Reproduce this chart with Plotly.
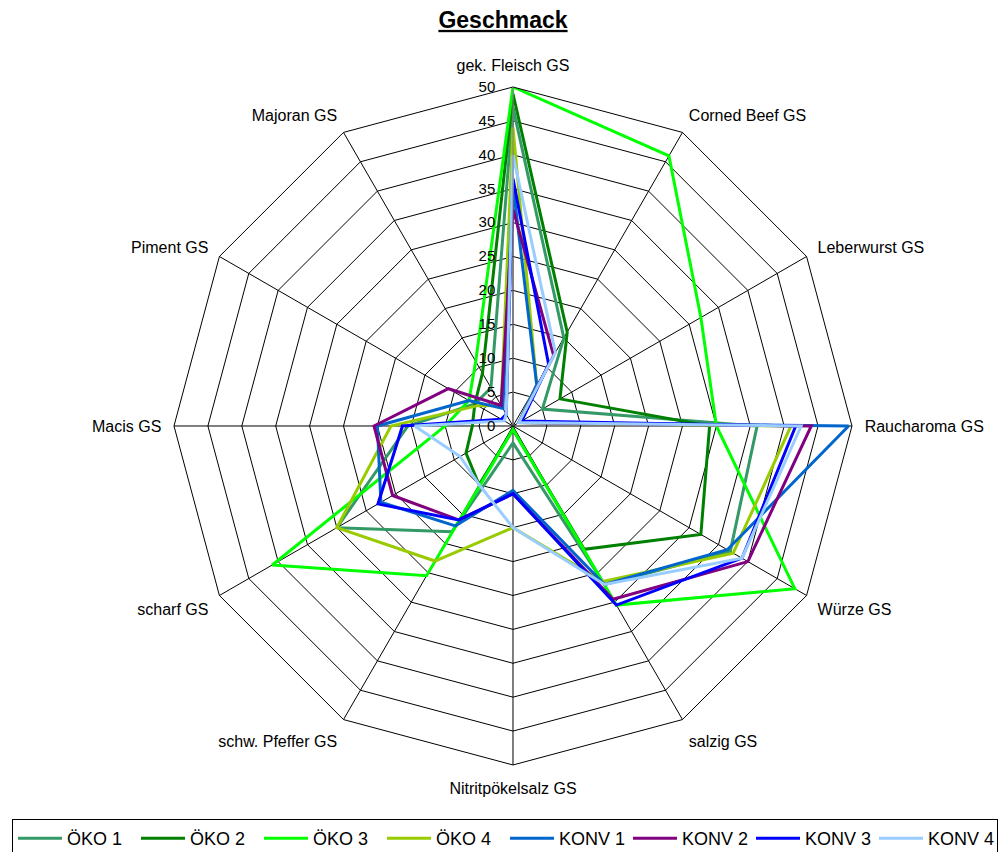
import plotly.graph_objects as go

# Categories (clockwise from top)
categories = [
    "gek. Fleisch GS", "Corned Beef GS", "Leberwurst GS", "Raucharoma GS",
    "Würze GS", "salzig GS", "Nitritpökelsalz GS", "schw. Pfeffer GS",
    "scharf GS", "Macis GS", "Piment GS", "Majoran GS",
]

oeko1 = [47, 15, 5, 36, 37, 27, 2.5, 18, 30, 15.5, 6.5, 6.5]
oeko2 = [49, 16, 8, 29, 32, 21, 0.5, 10, 8, 6, 6.5, 9]
oeko3 = [50, 46, 32, 30, 48, 30.5, 0.5, 25.5, 41, 10, 7.5, 11]
oeko4 = [44, 7, 1, 41, 37.5, 26.5, 15, 23, 30, 18, 6, 3.5]
konv1 = [35.5, 7, 1, 49.5, 36.5, 27, 9.5, 17, 22.5, 20, 7.5, 3]
konv2 = [32, 12, 1, 44, 40, 29.5, 10, 16, 20.5, 20.5, 11, 3.5]
konv3 = [36.5, 10.5, 1.5, 41.7, 39, 30.5, 10, 16, 23, 16.3, 2, 2]
konv4 = [40, 12.5, 1, 42.5, 39, 27, 15, 10, 9, 14.5, 1.5, 2]

series = [
    ("ÖKO 1", oeko1, "#339966"),
    ("ÖKO 2", oeko2, "#008000"),
    ("ÖKO 3", oeko3, "#00FF00"),
    ("ÖKO 4", oeko4, "#99CC00"),
    ("KONV 1", konv1, "#0066CC"),
    ("KONV 2", konv2, "#800080"),
    ("KONV 3", konv3, "#0000FF"),
    ("KONV 4", konv4, "#99CCFF"),
]

FONT = "Arial, Liberation Sans, sans-serif"

fig = go.Figure()
for name, vals, color in series:
    fig.add_trace(go.Scatterpolar(
        r=vals + vals[:1],
        theta=categories + categories[:1],
        mode="lines",
        name=name,
        line=dict(color=color, width=3),
    ))

# page has an 8px body margin, so the figure is 8px smaller than the window
fig.update_layout(
    width=998,
    height=844,
    paper_bgcolor="white",
    plot_bgcolor="white",
    margin=dict(l=0, r=0, t=0, b=0, autoexpand=False),
    font=dict(family=FONT, size=13, color="black"),
    title=dict(
        text="<b><u>Geschmack</u></b>",
        x=0.496, xanchor="center",
        y=0.986, yanchor="middle",
        font=dict(family=FONT, size=23, color="black"),
    ),
    polar=dict(
        domain=dict(x=[0.1663, 0.8457], y=[0.1031, 0.9064]),
        bgcolor="white",
        gridshape="linear",
        angularaxis=dict(
            direction="clockwise",
            rotation=90,
            showline=True,
            linecolor="black",
            linewidth=1,
            gridcolor="black",
            gridwidth=1,
            ticks="outside",
            ticklen=9,
            tickcolor="rgba(0,0,0,0)",
            tickfont=dict(family=FONT, size=16, color="black"),
        ),
        radialaxis=dict(
            range=[0, 50],
            dtick=5,
            angle=90,
            tickangle=90,
            side="counterclockwise",
            showline=True,
            linecolor="#808080",
            linewidth=1,
            gridcolor="black",
            gridwidth=1,
            ticks="outside",
            ticklen=12,
            tickcolor="rgba(0,0,0,0)",
            tickfont=dict(family=FONT, size=15, color="black"),
        ),
    ),
    showlegend=True,
    legend=dict(
        orientation="h",
        x=0.004, xanchor="left",
        y=0.0391, yanchor="top",
        bordercolor="black",
        borderwidth=1,
        font=dict(family=FONT, size=18, color="black"),
        itemwidth=44,
        entrywidth=64,
        tracegroupgap=0,
    ),
)

fig.write_html("out.html")
